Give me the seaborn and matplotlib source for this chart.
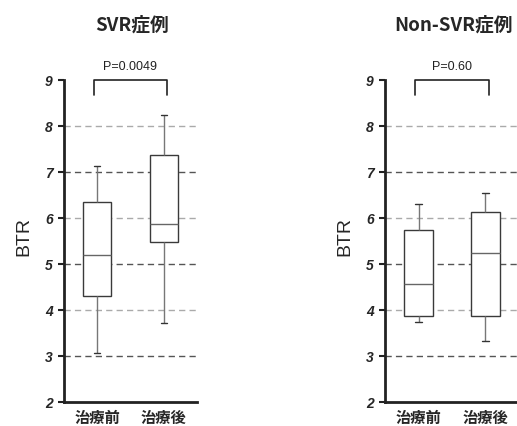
import numpy as np
import pandas as pd
import matplotlib
matplotlib.use("Agg")
import matplotlib.pyplot as plt
import seaborn as sns

# ---- data (five-number summaries) ----
categories = ["治療前", "治療後"]
svr_before = [3.06, 4.31, 5.20, 6.34, 7.14]
svr_after = [3.71, 5.48, 5.88, 7.36, 8.23]
nonsvr_before = [3.75, 3.87, 4.57, 5.73, 6.30]
nonsvr_after = [3.32, 3.87, 5.25, 6.14, 6.55]
titles = ["SVR症例", "Non-SVR症例"]
p_labels = ["P=0.0049", "P=0.60"]
y_ticks = [2, 3, 4, 5, 6, 7, 8, 9]
grid_dark = [3, 5, 7]
grid_light = [4, 6, 8]

sns.set_style("white")
plt.rcParams["font.family"] = ["Liberation Sans", "Noto Sans CJK JP", "DejaVu Sans"]

fig = plt.figure(figsize=(5.17, 4.26), dpi=100)
W, H = 517, 426
axL = fig.add_axes([64 / W, (426 - 402) / H, 133 / W, 322 / H])
axR = fig.add_axes([385 / W, (426 - 402) / H, 134 / W, 322 / H])

panels = [
    (axL, svr_before, svr_after, titles[0], p_labels[0], 132),
    (axR, nonsvr_before, nonsvr_after, titles[1], p_labels[1], 454),
]

for ax, before, after, title, plab, tx in panels:
    df = pd.DataFrame({
        "group": [categories[0]] * len(before) + [categories[1]] * len(after),
        "BTR": before + after,
    })
    for lv in grid_light:
        ax.axhline(lv, color="#aaaaaa", lw=1.0, ls=(0, (4.5, 3)), zorder=0)
    for lv in grid_dark:
        ax.axhline(lv, color="#555555", lw=1.0, ls=(0, (4.5, 3)), zorder=0)
    sns.boxplot(data=df, x="group", y="BTR", order=categories, ax=ax,
                whis=(0, 100), width=0.42, color="white", linecolor="#3a3a3a",
                linewidth=1.0, showfliers=False,
                whiskerprops=dict(color="#777777"),
                capprops=dict(color="#333333"),
                medianprops=dict(color="#666666"),
                capwidths=0.09)
    for p in ax.patches:
        p.set_zorder(2)
    ax.set_xlim(-0.5, 1.5)
    ax.set_ylim(2, 9)
    ax.set_yticks(y_ticks)
    ax.set_yticklabels([str(t) for t in y_ticks], fontsize=10, fontweight="bold",
                       fontstyle="italic", family=["Liberation Sans"])
    ax.tick_params(axis="y", length=4, width=1.5, color="#222222", pad=4, left=True)
    ax.tick_params(axis="x", length=0, pad=6)
    ax.set_xticks([0, 1])
    ax.set_xticklabels(categories, fontsize=11, fontweight="bold",
                       family=["Noto Sans CJK JP"])
    ax.set_xlabel("")
    ax.set_ylabel("BTR", fontsize=14, family=["Liberation Sans"])
    ax.yaxis.set_label_coords(-0.235, 0.515)
    for s in ["top", "right"]:
        ax.spines[s].set_visible(False)
    for s in ["left", "bottom"]:
        ax.spines[s].set_color("#222222")
        ax.spines[s].set_linewidth(2)
    # significance bracket
    ax.plot([-0.05, -0.05, 1.05, 1.05], [8.68, 9.0, 9.0, 8.68], color="#222222",
            lw=1.2, clip_on=False, zorder=5)
    ax.text(0.5, 9.28, plab, ha="center", va="center", fontsize=9,
            family=["Liberation Sans"], color="#222222")
    fig.text(tx / W, 1 - 25 / H, title, ha="center", va="center", fontsize=13.5,
             fontweight="bold", family=["Noto Sans CJK JP"])

fig.savefig("out.png", dpi=100)
